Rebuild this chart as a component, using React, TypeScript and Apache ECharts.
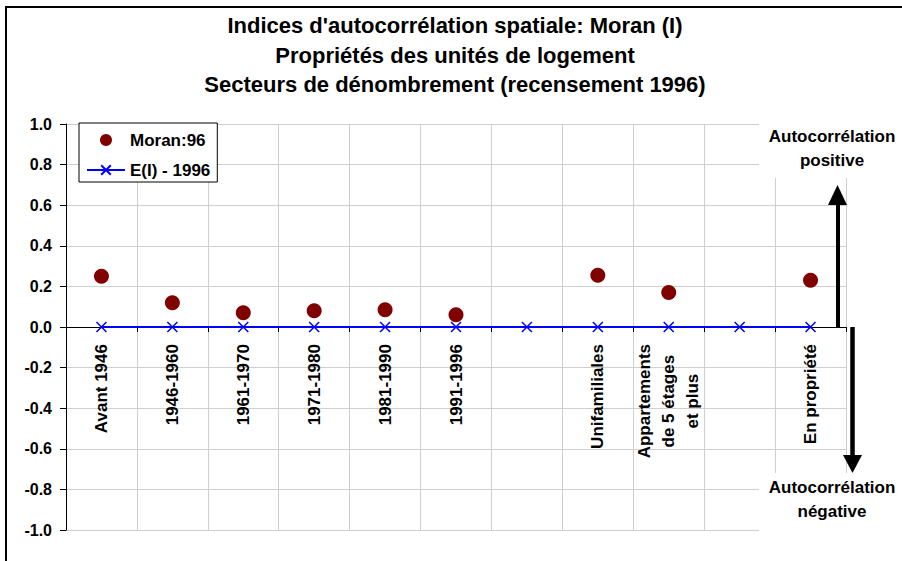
import React, { useEffect, useRef } from "react";
import * as echarts from "echarts";

const titleLines = [
  "Indices d'autocorrélation spatiale: Moran (I)",
  "Propriétés des unités de logement",
  "Secteurs de dénombrement (recensement 1996)",
];
const categories = [
  "Avant 1946",
  "1946-1960",
  "1961-1970",
  "1971-1980",
  "1981-1990",
  "1991-1996",
  "",
  "Unifamiliales",
  "Appartements\nde 5 étages\net plus",
  "",
  "En propriété",
];
const moranValues = [0.25, 0.12, 0.07, 0.08, 0.085, 0.06, null, 0.255, 0.17, null, 0.23];
const expectedValues = [0, 0, 0, 0, 0, 0, 0, 0, 0, 0, 0];
const seriesNames = ["Moran:96", "E(I) - 1996"];
const positiveLabel = "Autocorrélation\npositive";
const negativeLabel = "Autocorrélation\nnégative";

const FONT = "'Liberation Sans', Arial, sans-serif";

const GRID_TOP = 124;
const GRID_BOTTOM = 31;
const CHART_H = 561;
const Y_MIN = -1;
const Y_MAX = 1;

export default function App() {
  const ref = useRef<HTMLDivElement>(null);
  useEffect(() => {
    if (!ref.current) return;
    const chart = echarts.init(ref.current, null, { renderer: "svg" });
    const plotH = CHART_H - GRID_TOP - GRID_BOTTOM;
    // distance from the grid bottom up to the y = 0 line
    const zeroOffset = (plotH * (0 - Y_MIN)) / (Y_MAX - Y_MIN);
    chart.setOption({
      animation: false,
      backgroundColor: "#ffffff",
      textStyle: { fontFamily: FONT },
      title: {
        text: titleLines.join("\n"),
        left: 455,
        top: 11,
        padding: 0,
        textAlign: "center",
        textStyle: { fontSize: 22, fontWeight: "bold", lineHeight: 29.5, color: "#000", fontFamily: FONT },
      },
      legend: {
        orient: "vertical",
        left: 79,
        top: 123,
        padding: [7, 7, 2, 7],
        itemGap: 10,
        itemWidth: 38,
        itemHeight: 12,
        borderColor: "#000",
        borderWidth: 1,
        backgroundColor: "#fff",
        textStyle: { fontSize: 17, fontWeight: "bold", color: "#000", lineHeight: 20, fontFamily: FONT },
        data: seriesNames,
      },
      grid: { left: 66, right: 56, top: GRID_TOP, bottom: GRID_BOTTOM, containLabel: false, outerBoundsMode: "none" },
      xAxis: {
        type: "category",
        data: categories,
        offset: -zeroOffset,
        axisLine: { onZero: false, lineStyle: { color: "#000", width: 1 } },
        axisTick: { show: true, length: 5, lineStyle: { color: "#000" } },
        splitLine: { show: true, lineStyle: { color: "#cfcfcf", width: 1 } },
        axisLabel: {
          rotate: 90,
          interval: 0,
          margin: 17,
          color: "#000",
          fontSize: 17,
          fontWeight: "bold",
          fontFamily: FONT,
          lineHeight: 24,
          formatter: (v: string) =>
            v.indexOf("\n") >= 0 ? v.split("\n").map((l) => "{c|" + l + "}").join("\n") : v,
          rich: {
            c: { align: "center", fontSize: 17, fontWeight: "bold", lineHeight: 24, color: "#000", fontFamily: FONT },
          },
        },
      },
      yAxis: {
        type: "value",
        min: Y_MIN,
        max: Y_MAX,
        interval: 0.2,
        axisLine: { show: true, lineStyle: { color: "#000", width: 1 } },
        axisTick: { show: true, length: 6, lineStyle: { color: "#000" } },
        splitLine: { show: true, lineStyle: { color: "#cfcfcf", width: 1 } },
        axisLabel: {
          margin: 14,
          color: "#000",
          fontSize: 16,
          fontWeight: "bold",
          fontFamily: FONT,
          formatter: (v: number) => v.toFixed(1),
        },
      },
      series: [
        {
          name: seriesNames[0],
          type: "scatter",
          data: moranValues.map((v) => (v === null ? "-" : v)),
          symbol: "circle",
          symbolSize: 15,
          itemStyle: { color: "#800000", opacity: 1 },
          z: 4,
        },
        {
          name: seriesNames[1],
          type: "line",
          data: expectedValues,
          symbol: "path://M0,0L10,10M10,0L0,10",
          symbolSize: 10,
          showSymbol: true,
          lineStyle: { color: "#0000ff", width: 2 },
          itemStyle: { color: "#0000ff", borderColor: "#0000ff", borderWidth: 1.5 },
          z: 3,
        },
      ],
      graphic: [
        {
          type: "rect",
          z: 100,
          shape: { x: 6, y: 7, width: 1000, height: 1000 },
          style: { fill: "none", stroke: "#000", lineWidth: 2 },
        },
        {
          type: "rect",
          z: 100,
          shape: { x: 759, y: 112, width: 140, height: 66 },
          style: { fill: "#fff", stroke: "none" },
        },
        {
          type: "rect",
          z: 100,
          shape: { x: 759, y: 473, width: 140, height: 84 },
          style: { fill: "#fff", stroke: "none" },
        },
        {
          type: "text",
          z: 101,
          x: 832,
          y: 124,
          style: {
            text: positiveLabel,
            textAlign: "center",
            textVerticalAlign: "top",
            font: "bold 17px " + FONT,
            lineHeight: 24,
            fill: "#000",
          },
        },
        {
          type: "text",
          z: 101,
          x: 832,
          y: 475,
          style: {
            text: negativeLabel,
            textAlign: "center",
            textVerticalAlign: "top",
            font: "bold 17px " + FONT,
            lineHeight: 24,
            fill: "#000",
          },
        },
        {
          type: "line",
          z: 101,
          shape: { x1: 838, y1: 327, x2: 838, y2: 202 },
          style: { stroke: "#000", lineWidth: 4 },
        },
        {
          type: "polygon",
          z: 101,
          shape: { points: [[828, 205], [847, 205], [837.5, 185]] },
          style: { fill: "#000" },
        },
        {
          type: "line",
          z: 101,
          shape: { x1: 852.5, y1: 327, x2: 852.5, y2: 458 },
          style: { stroke: "#000", lineWidth: 4.5 },
        },
        {
          type: "polygon",
          z: 101,
          shape: { points: [[843, 455], [862, 455], [852.5, 473]] },
          style: { fill: "#000" },
        },
      ],
    });
    return () => chart.dispose();
  }, []);
  return (
    <div
      ref={ref}
      style={{ position: "absolute", left: 0, top: 0, width: 902, height: 561, background: "#fff" }}
    />
  );
}
